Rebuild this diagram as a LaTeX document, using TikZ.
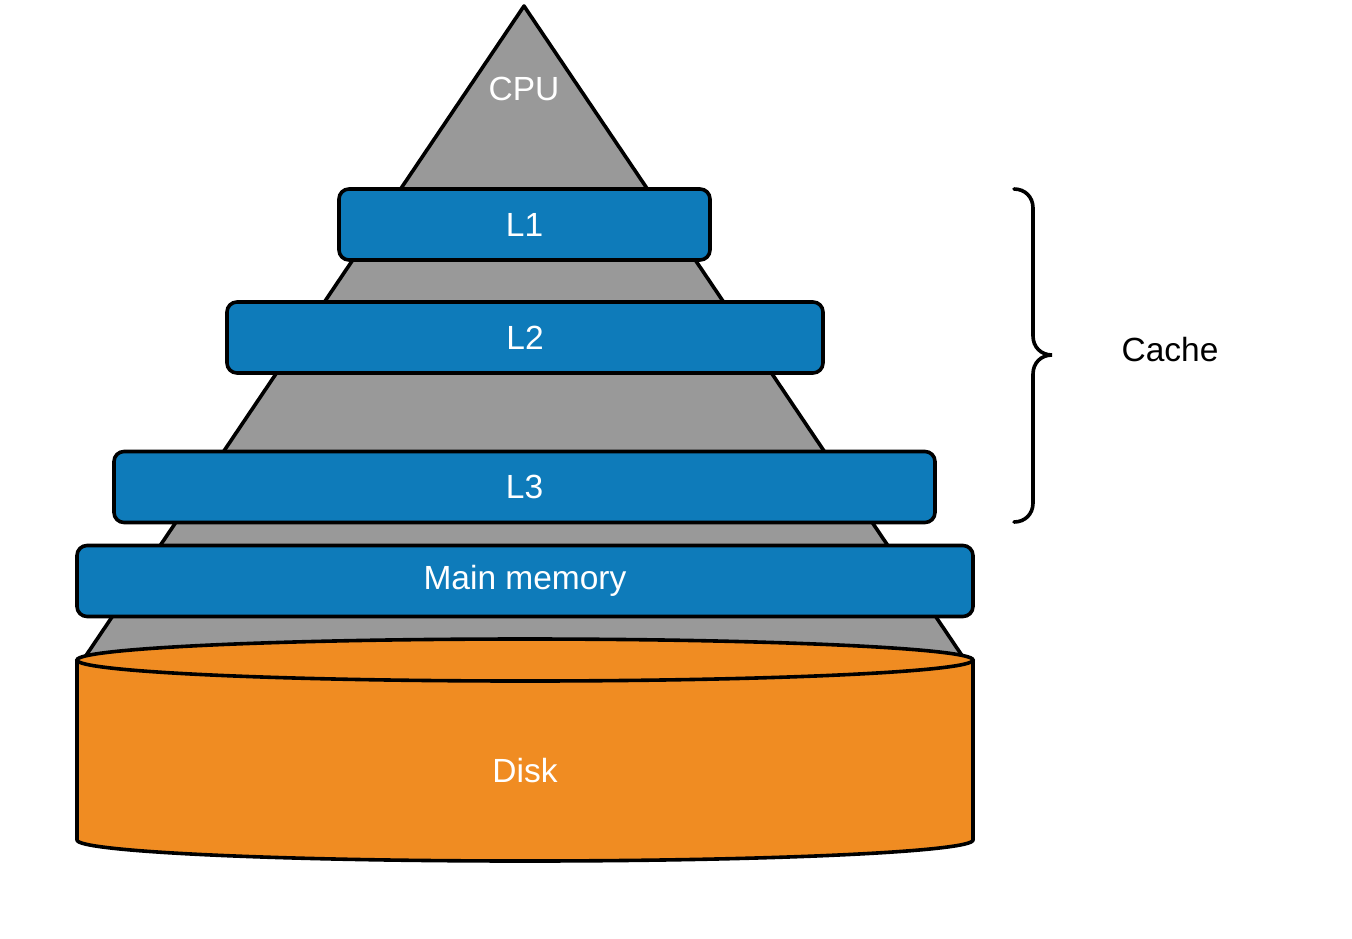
\documentclass[tikz,border=0pt]{standalone}
\usepackage{fontspec}
\setmainfont{Liberation Sans}
\definecolor{pyrgray}{HTML}{999999}
\definecolor{cacheblue}{HTML}{0E7BBA}
\definecolor{diskorange}{HTML}{F08C22}
\begin{document}
\begin{tikzpicture}[x=1pt,y=-1pt,
  level/.style={draw=black, line width=3.6pt, fill=cacheblue, rounded corners=10pt,
    minimum height=71pt, inner sep=0pt, text=white, font=\fontsize{33.5}{40}\selectfont},
  lbl/.style={text=white, font=\fontsize{33.5}{40}\selectfont, inner sep=0pt},
  blk/.style={draw=black, line width=3.6pt}]
\useasboundingbox (0,0) rectangle (1352,938);
% pyramid
\draw[blk, fill=pyrgray, line join=round] (524,6) -- (83,660) -- (965,660) -- cycle;
\node[lbl] (cpu) at (524,89) {CPU};
% levels
\node[level, minimum width=371pt] (l1) at (524.5,224.5) {L1};
\node[level, minimum width=596pt] (l2) at (525,337.5) {L2};
\node[level, minimum width=821pt] (l3) at (524.5,487) {L3};
\node[level, minimum width=896pt] (mm) at (525,581) {Main memory};
% disk
\draw[blk, fill=diskorange, line join=round] (77,660) -- (77,840) arc[start angle=180, end angle=360, x radius=448pt, y radius=21pt] -- (973,660) -- cycle;
\draw[blk, fill=diskorange] (525,660) ellipse[x radius=448pt, y radius=21pt];
\node[lbl] (disk) at (525,771) {Disk};
% brace
\draw[line width=3.6pt, line cap=round] (1014,189) .. controls (1025,189) and (1033,197) .. (1033,208) -- (1033,336) .. controls (1033,347) and (1041,355) .. (1052,355) .. controls (1041,355) and (1033,363) .. (1033,374) -- (1033,503) .. controls (1033,514) and (1025,522) .. (1014,522);
\node[inner sep=0pt, font=\fontsize{33.5}{40}\selectfont] (cache) at (1170,350) {Cache};
\end{tikzpicture}
\end{document}
